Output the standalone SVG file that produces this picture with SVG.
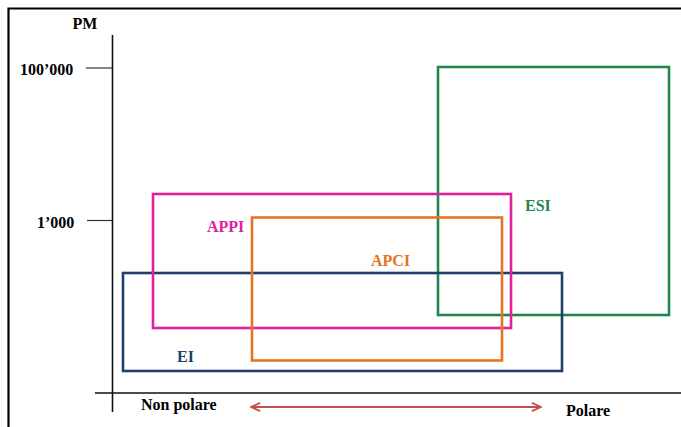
<svg xmlns="http://www.w3.org/2000/svg" width="681" height="427" viewBox="0 0 681 427">
<style>
text{font-family:"Liberation Serif","Times New Roman",serif;font-weight:bold;font-size:16px}
.ax{stroke:#111;stroke-width:1.6;fill:none}
.tick{stroke:#333;stroke-width:1.2}
.box{fill:none;stroke-width:2.6}
</style>
<defs>
<marker id="ah" viewBox="0 0 12 12" refX="11" refY="6" markerWidth="11" markerHeight="11" orient="auto-start-reverse" markerUnits="userSpaceOnUse">
<path d="M1,1.5 L11,6 L1,10.5" fill="none" stroke="#c0504d" stroke-width="2"/>
</marker>
</defs>
<rect width="681" height="427" fill="#fff"/>
<path d="M8.5,430 V8.5 H690" fill="none" stroke="#000" stroke-width="2.2"/>
<g id="axes">
<line class="ax" x1="112.5" y1="35" x2="112.5" y2="412"/>
<line class="ax" x1="95" y1="393" x2="681" y2="393"/>
<line class="tick" x1="86" y1="68" x2="112" y2="68"/>
<line class="tick" x1="87" y1="220.5" x2="112" y2="220.5"/>
<text x="85" y="29" text-anchor="middle">PM</text>
<text x="20" y="75">100’000</text>
<text x="37" y="228">1’000</text>
<text x="141" y="410">Non polare</text>
<text x="566" y="416">Polare</text>
</g>
<g id="ESI">
<rect class="box" x="438" y="67" width="231" height="248" stroke="#1e874a"/>
<text x="525" y="211" fill="#1e874a">ESI</text>
</g>
<g id="EI">
<rect class="box" x="123" y="273" width="439" height="98" stroke="#203f6a"/>
<text x="177" y="362" fill="#203f6a">EI</text>
</g>
<g id="APPI">
<rect class="box" x="153" y="194" width="358" height="134" stroke="#e0209f"/>
<text x="207" y="232" fill="#e0209f">APPI</text>
</g>
<g id="APCI">
<rect class="box" x="252" y="217.5" width="250" height="143" stroke="#e8731e"/>
<text x="371" y="266" fill="#e8731e">APCI</text>
</g>
<g id="connectors">
<line x1="251" y1="407" x2="541" y2="407" stroke="#c0504d" stroke-width="2.2" marker-start="url(#ah)" marker-end="url(#ah)"/>
</g>
</svg>
